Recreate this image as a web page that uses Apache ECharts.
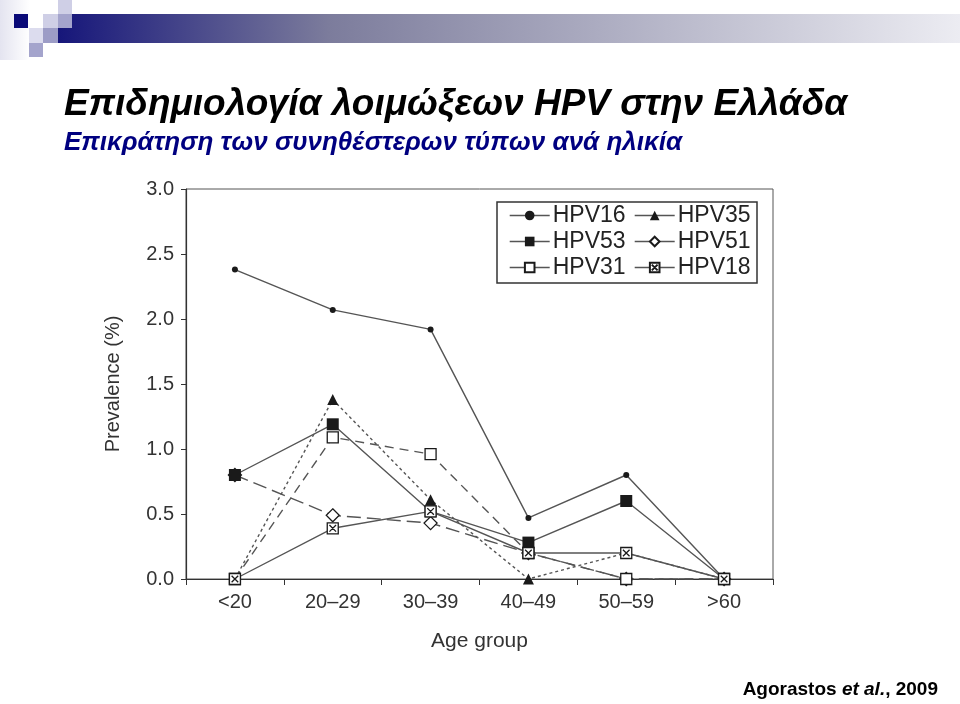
<!DOCTYPE html>
<html>
<head>
<meta charset="utf-8">
<script src="https://cdn.jsdelivr.net/npm/echarts@6/dist/echarts.min.js"></script>
<style>
html,body{margin:0;padding:0;background:#fff;}
#chart{width:960px;height:704px;}
</style>
</head>
<body>
<div id="chart"></div>
<script>
// ---- data ----
const ageGroups = ['<20', '20–29', '30–39', '40–49', '50–59', '>60'];
const hpv16 = [2.38, 2.07, 1.92, 0.47, 0.80, 0];
const hpv53 = [0.80, 1.19, 0.52, 0.28, 0.60, 0];
const hpv31 = [0, 1.09, 0.96, 0.20, 0, 0];
const hpv35 = [0, 1.38, 0.61, 0, 0.20, 0];
const hpv51 = [0.80, 0.49, 0.43, 0.20, 0, 0];
const hpv18 = [0, 0.39, 0.52, 0.20, 0.20, 0];
const yTicks = [0, 0.5, 1.0, 1.5, 2.0, 2.5, 3.0];

const FONT = 'Liberation Sans';
const LINE = '#555';
const MARK = '#1a1a1a';

function mkSeries(name, data, symbol, size, filled, dash, z) {
  return {
    name: name, type: 'line', data: data,
    symbol: symbol, symbolSize: size,
    showAllSymbol: true,
    lineStyle: { color: LINE, width: 1.4, type: dash },
    itemStyle: { color: filled ? MARK : '#fff', borderColor: MARK, borderWidth: filled ? 0 : 1.3 },
    emphasis: { disabled: true },
    z: z
  };
}

const chart = echarts.init(document.getElementById('chart'), null, { renderer: 'canvas' });
const crossSq = 'path://M0,0L10,0L10,10L0,10Z M2,2L8,8 M8,2L2,8';

const legendText = { fontFamily: FONT, fontSize: 23, color: '#222', lineHeight: 22, padding: [0, 0, 0, -2] };
const legendLine = { type: 'solid', width: 1.4, color: LINE };

const option = {
  animation: false,
  backgroundColor: '#fff',
  title: [
    { text: 'Επιδημιολογία λοιμώξεων HPV στην Ελλάδα', left: 59, top: 81,
      textStyle: { fontFamily: FONT, fontSize: 37, fontWeight: 'bold', fontStyle: 'italic', color: '#000' } },
    { text: 'Επικράτηση των συνηθέστερων τύπων ανά ηλικία', left: 59, top: 125,
      textStyle: { fontFamily: FONT, fontSize: 26, fontWeight: 'bold', fontStyle: 'italic', color: '#000080' } }
  ],
  grid: { left: 186, top: 189, right: 187, bottom: 125, show: true, borderColor: '#555', borderWidth: 1 },
  xAxis: {
    type: 'category', data: ageGroups, boundaryGap: true,
    name: 'Age group', nameLocation: 'middle', nameGap: 52,
    nameTextStyle: { fontFamily: FONT, fontSize: 21, color: '#333' },
    axisLine: { lineStyle: { color: '#333', width: 1.2 } },
    axisTick: { show: true, inside: false, length: 6, lineStyle: { color: '#333' } },
    axisLabel: { fontFamily: FONT, fontSize: 20, color: '#333', margin: 13 },
    splitLine: { show: false }
  },
  yAxis: {
    type: 'value', min: 0, max: 3, interval: 0.5,
    name: 'Prevalence (%)', nameLocation: 'middle', nameGap: 63,
    nameTextStyle: { fontFamily: FONT, fontSize: 20, color: '#333' },
    axisLine: { show: true, lineStyle: { color: '#333', width: 1.2 } },
    axisTick: { show: true, inside: false, length: 5, lineStyle: { color: '#333' } },
    axisLabel: { fontFamily: FONT, fontSize: 20, color: '#333', margin: 12,
      formatter: v => yTicks.includes(v) ? v.toFixed(1) : '' },
    splitLine: { show: false }
  },
  legend: [
    { orient: 'vertical', left: 504, top: 199, itemWidth: 40, itemHeight: 12, itemGap: 3,
      data: ['HPV16', 'HPV53', 'HPV31'], lineStyle: legendLine, textStyle: legendText },
    { orient: 'vertical', left: 629, top: 199, itemWidth: 40, itemHeight: 12, itemGap: 3,
      data: ['HPV35', 'HPV51', 'HPV18'], lineStyle: legendLine, textStyle: legendText }
  ],
  series: [
    mkSeries('HPV16', hpv16, 'circle', 6, true, 'solid', 6),
    mkSeries('HPV53', hpv53, 'rect', 12, true, 'solid', 7),
    mkSeries('HPV31', hpv31, 'rect', 11, false, [9, 6], 5),
    mkSeries('HPV35', hpv35, 'triangle', 11, true, [3, 3], 4),
    mkSeries('HPV51', hpv51, 'diamond', 13, false, [14, 6], 3),
    mkSeries('HPV18', hpv18, crossSq, 11, false, 'solid', 8)
  ],
  graphic: [
    // top-left decoration
    { type: 'rect', shape: { x: 58, y: 14, width: 902, height: 29 }, silent: true,
      style: { fill: new echarts.graphic.LinearGradient(0, 0, 1, 0, [
        { offset: 0, color: '#16167a' }, { offset: 0.3, color: '#7c7c9c' }, { offset: 1, color: '#ececf2' }]) } },
    { type: 'rect', shape: { x: 0, y: 0, width: 30, height: 60 }, silent: true,
      style: { fill: new echarts.graphic.LinearGradient(0, 0, 1, 0, [
        { offset: 0, color: '#e4e4f0' }, { offset: 1, color: '#ffffff' }]) } },
    { type: 'rect', shape: { x: 14, y: 14, width: 14, height: 14 }, silent: true, style: { fill: '#0a0a78' } },
    { type: 'rect', shape: { x: 58, y: 0, width: 14, height: 14 }, silent: true, style: { fill: '#cfcfe6' } },
    { type: 'rect', shape: { x: 43, y: 14, width: 15, height: 14 }, silent: true, style: { fill: '#cfcfe6' } },
    { type: 'rect', shape: { x: 58, y: 14, width: 14, height: 14 }, silent: true, style: { fill: '#a4a4cc' } },
    { type: 'rect', shape: { x: 29, y: 28, width: 14, height: 15 }, silent: true, style: { fill: '#dcdcee' } },
    { type: 'rect', shape: { x: 43, y: 28, width: 15, height: 15 }, silent: true, style: { fill: '#9c9cc6' } },
    { type: 'rect', shape: { x: 29, y: 43, width: 14, height: 14 }, silent: true, style: { fill: '#a4a4cc' } },
    // legend box
    { type: 'rect', shape: { x: 497, y: 202, width: 260, height: 81 }, silent: true, z: 1,
      style: { fill: 'none', stroke: '#333', lineWidth: 1.5 } },
    // footer
    { type: 'text', right: 22, top: 680, silent: true,
      style: { text: '{a|Agorastos }{b|et al.}{a|, 2009}', rich: {
        a: { fontFamily: FONT, fontSize: 19, fontWeight: 'bold', fill: '#000' },
        b: { fontFamily: FONT, fontSize: 19, fontWeight: 'bold', fontStyle: 'italic', fill: '#000' } } } }
  ]
};
chart.setOption(option);
</script>
</body>
</html>
